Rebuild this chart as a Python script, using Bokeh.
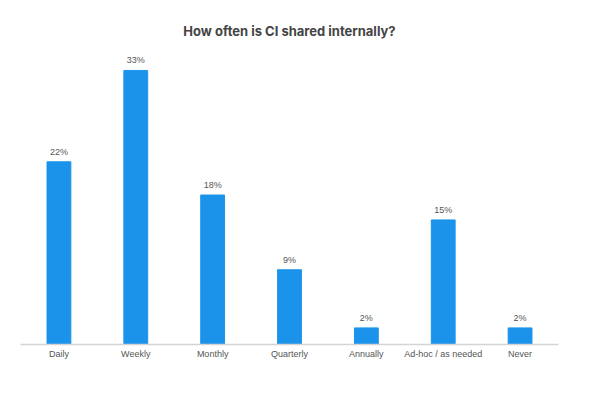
from bokeh.plotting import figure
from bokeh.models import ColumnDataSource, Range1d, LabelSet, Title
from bokeh.core.properties import value
from bokeh.embed import file_html
from bokeh.resources import INLINE

categories = ["Daily", "Weekly", "Monthly", "Quarterly", "Annually", "Ad-hoc / as needed", "Never"]
values = [22, 33, 18, 9, 2, 15, 2]
labels = ["22%", "33%", "18%", "9%", "2%", "15%", "2%"]

src = ColumnDataSource(dict(cat=categories, val=values, lab=labels))

p = figure(x_range=categories, y_range=Range1d(0, 34.8), width=584, height=384,
           output_backend="svg", toolbar_location=None,
           min_border_left=20, min_border_right=26, min_border_top=55, min_border_bottom=40)
p.title = None
p.add_layout(Title(text="How often is CI shared internally?", align="center",
                   text_font="Inter", text_font_size="13px", text_font_style="bold",
                   text_color="#444444", standoff=34), "above")

p.vbar(x="cat", top="val", width=0.31, source=src, color="#1b93ea")
p.add_layout(LabelSet(x="cat", y="val", text="lab", source=src, y_offset=5,
                      text_align="center", text_baseline="bottom",
                      text_font=value("Liberation Sans"), text_font_size=value("9px"),
                      text_color="#555555"))

p.yaxis.visible = False
p.xgrid.grid_line_color = None
p.ygrid.grid_line_color = None
p.outline_line_color = None
p.xaxis.axis_line_color = "#d4d4d4"
p.xaxis.axis_line_width = 1.5
p.xaxis.major_tick_line_color = None
p.xaxis.minor_tick_line_color = None
p.xaxis.major_label_standoff = -2
p.xaxis.major_label_text_font = "Liberation Sans"
p.xaxis.major_label_text_font_size = "9px"
p.xaxis.major_label_text_color = "#555555"

open("out.html", "w").write(file_html(p, INLINE))
